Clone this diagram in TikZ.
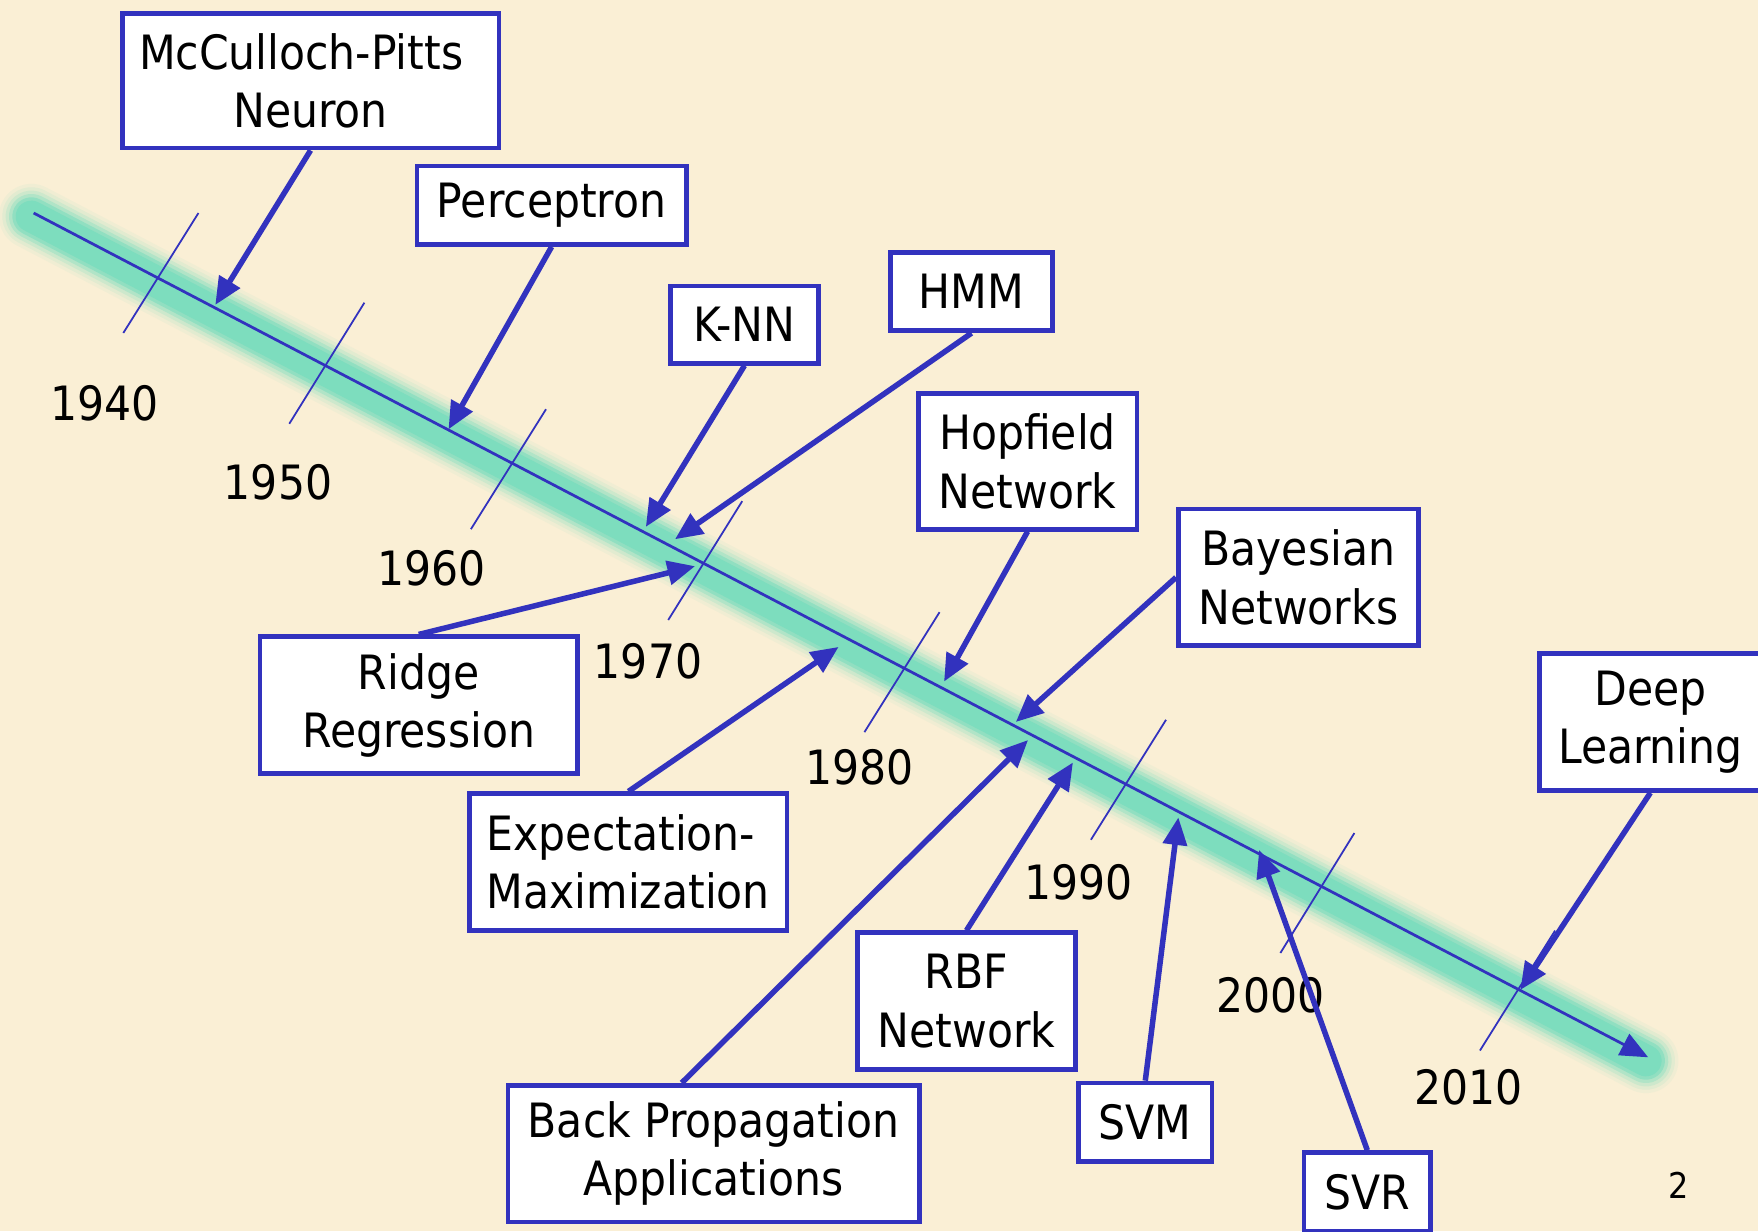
\documentclass[tikz,border=0pt]{standalone}
\usepackage{fontspec}
\setmainfont{DejaVu Sans Condensed}
\usetikzlibrary{arrows.meta}

\definecolor{tlblue}{RGB}{50,50,190}
\definecolor{glow}{RGB}{125,221,190}
\definecolor{paper}{RGB}{250,239,213}

\tikzset{
  event/.style={rectangle, draw=tlblue, line width=1.2pt, fill=white, align=center,
    inner sep=0pt, font=\fontsize{12}{14.8}\selectfont},
  pointer/.style={draw=tlblue, line width=1.4pt, -{Triangle[length=7pt,width=6pt]}},
  yeartick/.style={draw=tlblue, line width=0.45pt},
  yearlabel/.style={font=\fontsize{12}{14.8}\selectfont}
}

\begin{document}
\begin{tikzpicture}
        \useasboundingbox (0,0) rectangle (15.68,-10.98);
        \fill[paper] (0,0) rectangle (15.68,-10.98);

        % Timeline
        \coordinate (tlstart) at (0.30,-1.90);
        \coordinate (tlend) at (14.70,-9.43);
        \foreach \w/\o in {0.58/0.08, 0.52/0.12, 0.46/0.2, 0.40/0.35, 0.34/0.6, 0.28/1}
          \draw[glow, line width=\w cm, line cap=round, opacity=\o]
            (0.28,-1.93) -- (14.68,-9.46);
        \draw[tlblue, line width=0.7pt, -{Triangle[length=7pt,width=6pt]}] (tlstart) -- (tlend);

        % Ticks and years
        \foreach \tx/\ty/\bx/\by/\lx/\ly/\yr in {
            1.77/-1.90/1.10/-2.97/0.93/-3.60/1940,
            3.25/-2.70/2.58/-3.78/2.48/-4.30/1950,
            4.87/-3.65/4.20/-4.72/3.85/-5.07/1960,
            6.62/-4.47/5.96/-5.53/5.78/-5.90/1970,
            8.38/-5.46/7.71/-6.53/7.67/-6.84/1980,
            10.40/-6.42/9.73/-7.49/9.62/-7.87/1990,
            12.08/-7.43/11.42/-8.50/11.33/-8.88/2000,
            13.87/-8.30/13.20/-9.37/13.10/-9.70/2010} {
          \draw[yeartick] (\tx,\ty) -- (\bx,\by);
          \node (y\yr) [yearlabel] at (\lx,\ly) {\yr};
        }

        % Points on the timeline
        \coordinate (tMcp) at (1.92,-2.72);
        \coordinate (tPer) at (4.00,-3.83);
        \coordinate (tKnn) at (5.76,-4.70);
        \coordinate (tHmm) at (6.02,-4.81);
        \coordinate (tRidge) at (6.20,-5.05);
        \coordinate (tEm) at (7.48,-5.77);
        \coordinate (tHop) at (8.42,-6.08);
        \coordinate (tBay) at (9.06,-6.44);
        \coordinate (tBp) at (9.17,-6.60);
        \coordinate (tRbf) at (9.57,-6.80);
        \coordinate (tSvm) at (10.51,-7.29);
        \coordinate (tSvr) at (11.23,-7.58);
        \coordinate (tDeep) at (13.56,-8.83);

        % Nodes
        \node (mcp) [event, minimum width=3.36cm, minimum height=1.20cm] at (2.77,-0.72)
          {McCulloch-Pitts\hspace*{0.4em}\\Neuron};
        \node (per) [event, minimum width=2.40cm, minimum height=0.70cm] at (4.92,-1.83) {Perceptron};
        \node (knn) [event, minimum width=1.32cm, minimum height=0.69cm] at (6.64,-2.895) {K-NN};
        \node (hmm) [event, minimum width=1.45cm, minimum height=0.70cm] at (8.665,-2.60) {HMM};
        \node (hop) [event, minimum width=1.95cm, minimum height=1.21cm] at (9.165,-4.115) {Hopfield\\Network};
        \node (bay) [event, minimum width=2.14cm, minimum height=1.22cm] at (11.58,-5.15) {Bayesian\\Networks};
        \node (deep) [event, minimum width=1.98cm, minimum height=1.22cm] at (14.72,-6.44) {Deep\\Learning};
        \node (ridge) [event, minimum width=2.83cm, minimum height=1.22cm] at (3.735,-6.29) {Ridge\\Regression};
        \node (em) [event, align=left, minimum width=2.83cm, minimum height=1.22cm] at (5.605,-7.69)
          {Expectation-\\Maximization};
        \node (rbf) [event, minimum width=1.94cm, minimum height=1.22cm] at (8.62,-8.93) {RBF\\Network};
        \node (bp) [event, minimum width=3.67cm, minimum height=1.22cm] at (6.365,-10.29)
          {Back Propagation\\Applications};
        \node (svm) [event, minimum width=1.19cm, minimum height=0.70cm] at (10.215,-10.01) {SVM};
        \node (svr) [event, minimum width=1.13cm, minimum height=0.70cm] at (12.195,-10.63) {SVR};
        \node (page) [font=\fontsize{9}{11}\selectfont] at (14.97,-10.57) {2};

        % Arrows
        \draw[pointer] (mcp.south) -- (tMcp);
        \draw[pointer] (per.south) -- (tPer);
        \draw[pointer] (knn.south) -- (tKnn);
        \draw[pointer] (hmm.south) -- (tHmm);
        \draw[pointer] (ridge.north) -- (tRidge);
        \draw[pointer] (em.north) -- (tEm);
        \draw[pointer] (hop.south) -- (tHop);
        \draw[pointer] (bay.west) -- (tBay);
        \draw[pointer] ([xshift=-0.285cm]bp.north) -- (tBp);
        \draw[pointer] (rbf.north) -- (tRbf);
        \draw[pointer] (svm.north) -- (tSvm);
        \draw[pointer] (svr.north) -- (tSvr);
        \draw[pointer] (deep.south) -- (tDeep);
    \end{tikzpicture}
\end{document}
